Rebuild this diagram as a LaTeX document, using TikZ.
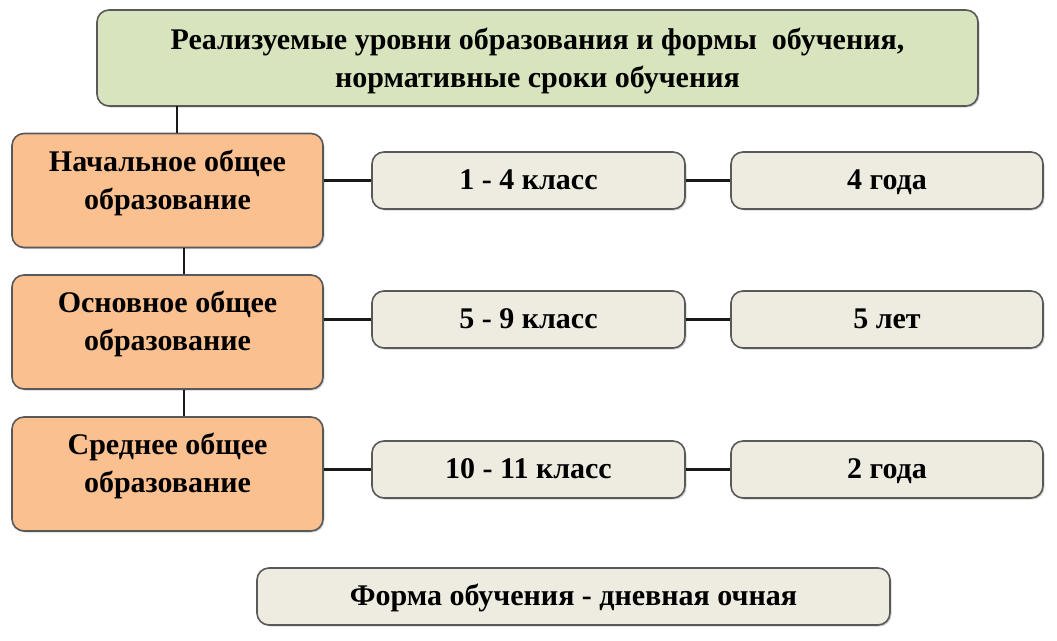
\documentclass[tikz,border=0pt]{standalone}
\usepackage{fontspec}
\setmainfont{Liberation Serif}
\usetikzlibrary{shadows}
\definecolor{topfill}{HTML}{D7E4BD}
\definecolor{orfill}{HTML}{FAC090}
\definecolor{grfill}{HTML}{EEECE1}
\definecolor{bord}{HTML}{595959}
\begin{document}
\begin{tikzpicture}[x=1pt,y=-1pt,
  txt/.style={font=\fontsize{30}{38}\selectfont\bfseries,align=center,inner sep=0pt},
  box/.style={draw=bord,line width=1.6pt,rounded corners=12pt,inner sep=0pt,txt,
    drop shadow={shadow xshift=1.5pt,shadow yshift=-1.5pt,opacity=0.35}},
  one/.style={text height=22pt,text depth=5pt},
  conn/.style={line width=2.4pt,draw=black!90}]
\useasboundingbox (0,0) rectangle (1057,640);
\node[box,fill=topfill,minimum width=881pt,minimum height=96pt,
  label={[txt,yshift=-3pt]center:{Реализуемые уровни образования и формы~ обучения,\\нормативные сроки обучения}}]
  (top) at (537.5,58) {};
\foreach \n/\y/\t in {l1/190.5/{Начальное общее\\образование},
                      l2/332/{Основное общее\\образование},
                      l3/474/{Среднее общее\\образование}}
  \node[box,fill=orfill,minimum width=311pt,minimum height=114pt,
        label={[txt,yshift=8pt]center:\t}] (\n) at (167.5,\y) {};
\foreach \n/\y/\t in {m1/180.5/{1 - 4 класс},m2/319.5/{5 - 9 класс},m3/469.5/{10 - 11 класс}}
  \node[box,one,fill=grfill,minimum width=313pt,minimum height=57pt] (\n) at (528.5,\y) {\t};
\foreach \n/\y/\t in {r1/180.5/{4 года},r2/319.5/{5 лет},r3/469.5/{2 года}}
  \node[box,one,fill=grfill,minimum width=312pt,minimum height=57pt] (\n) at (887,\y) {\t};
\node[box,one,fill=grfill,minimum width=633pt,minimum height=57pt] (form) at (573.5,596.5)
  {Форма обучения - дневная очная};
\coordinate (t1) at (177,106);
\coordinate (t2) at (177,133);
\draw[conn] (t1) -- (t2);
\draw[conn] ([xshift=16.5pt]l1.south) -- ([xshift=16.5pt]l2.north);
\draw[conn] ([xshift=16.5pt]l2.south) -- ([xshift=16.5pt]l3.north);
\foreach \i in {1,2,3}{
  \draw[conn] (l\i.east |- m\i.west) -- (m\i.west);
  \draw[conn] (m\i.east) -- (r\i.west);
}
\end{tikzpicture}
\end{document}
